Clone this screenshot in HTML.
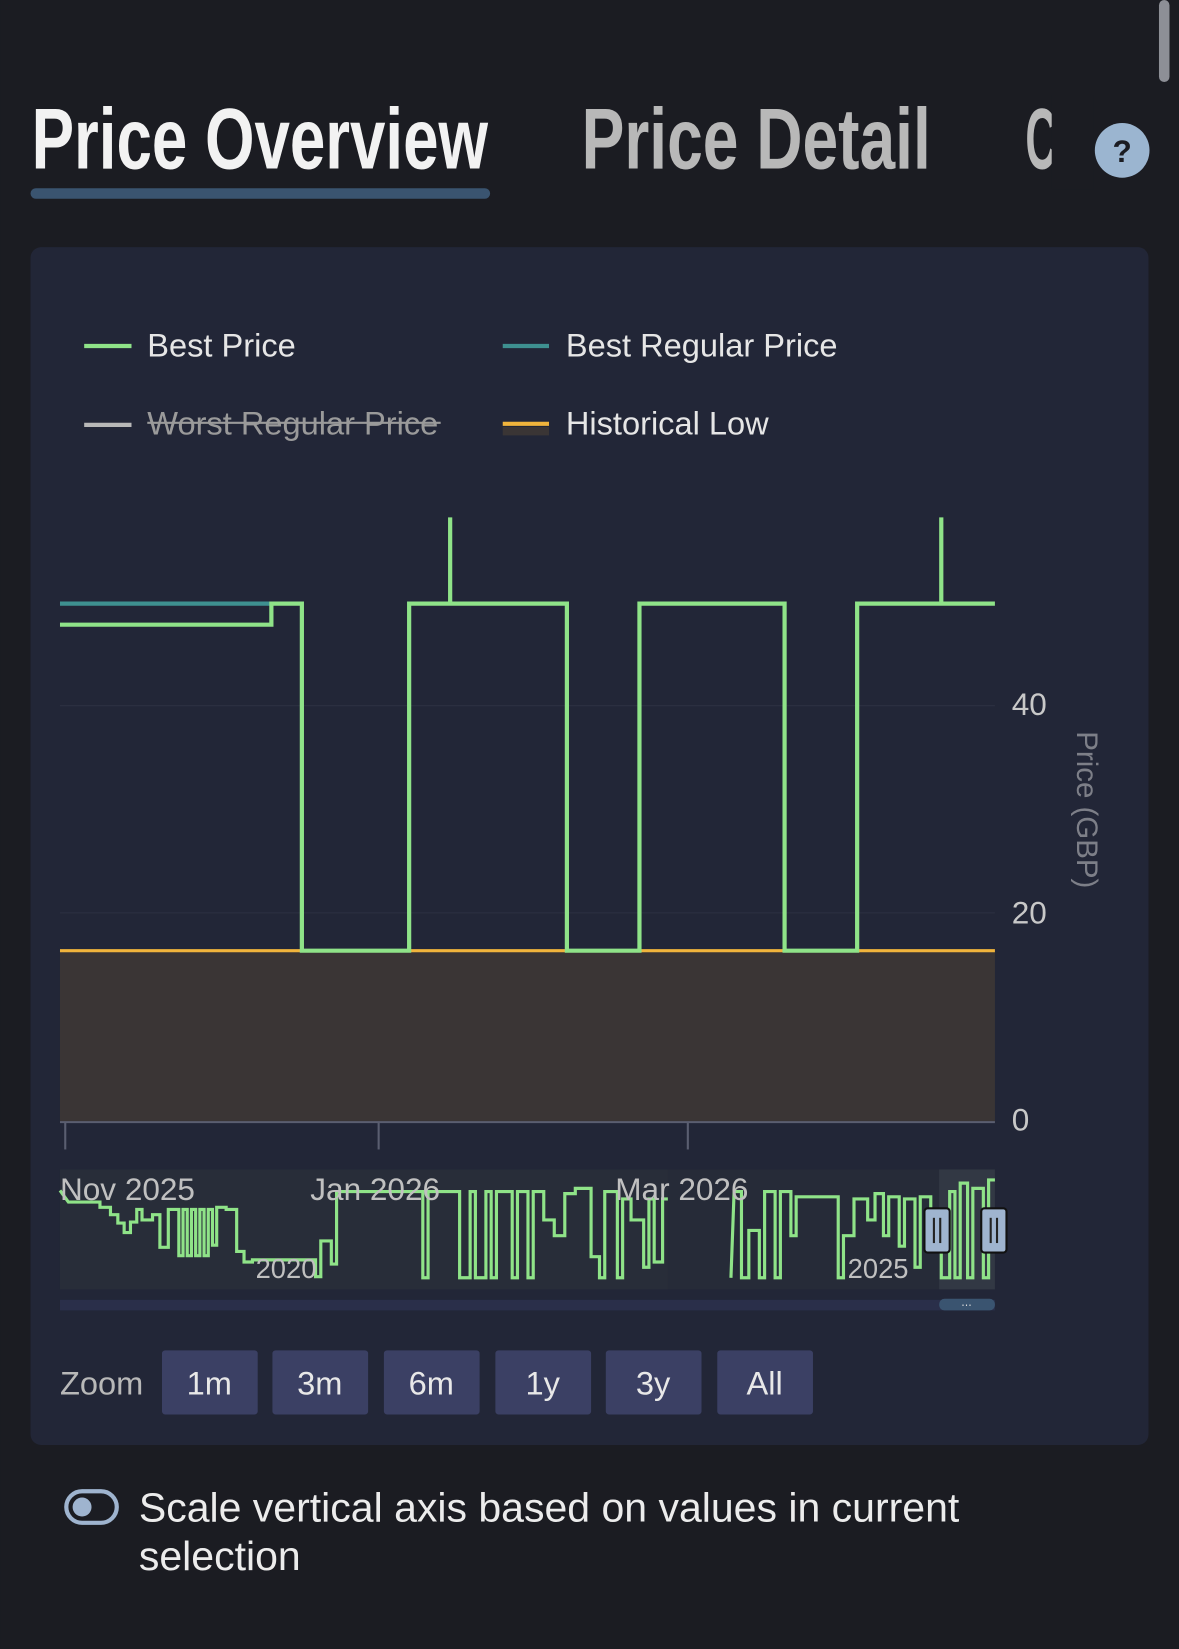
<!DOCTYPE html>
<html><head><meta charset="utf-8"><style>
html,body{margin:0;padding:0;background:#1b1c22;}
svg{display:block}
text{font-family:"Liberation Sans",sans-serif;}
</style></head><body>
<svg width="1179" height="1649" viewBox="0 0 1121 1568" xmlns="http://www.w3.org/2000/svg">
<rect width="1121" height="1568" fill="#1b1c22"/>
<rect x="1102" y="0" width="10" height="78" rx="5" fill="#8d8f96"/>
<text x="30" y="160" font-size="82" font-weight="bold" fill="#f2f2f2" style="font-family:'Liberation Sans Narrow','Liberation Sans',sans-serif" textLength="434" lengthAdjust="spacingAndGlyphs">Price Overview</text>
<text x="553" y="160" font-size="82" font-weight="bold" fill="#b8b8b8" style="font-family:'Liberation Sans Narrow','Liberation Sans',sans-serif" textLength="332" lengthAdjust="spacingAndGlyphs">Price Detail</text>
<text x="975" y="160" font-size="82" font-weight="bold" fill="#b8b8b8" style="font-family:'Liberation Sans Narrow','Liberation Sans',sans-serif" textLength="30" lengthAdjust="spacingAndGlyphs">C</text>
<rect x="1000" y="90" width="40" height="90" fill="#1b1c22"/>
<rect x="29" y="179" width="437" height="10" rx="5" fill="#3a5470"/>
<circle cx="1067" cy="143" r="26" fill="#9bb5d0"/>
<text x="1067" y="154" font-size="30" font-weight="bold" fill="#1b1c22" text-anchor="middle">?</text>
<rect x="29" y="235" width="1063" height="1139" rx="10" fill="#222637"/>
<g font-size="31">
<line x1="80" y1="329" x2="125" y2="329" stroke="#8fe388" stroke-width="4"/>
<text x="140" y="339" fill="#e6e6e6">Best Price</text>
<line x1="478" y1="329" x2="522" y2="329" stroke="#3e9090" stroke-width="4"/>
<text x="538" y="339" fill="#e6e6e6">Best Regular Price</text>
<line x1="80" y1="404" x2="125" y2="404" stroke="#b8b8b8" stroke-width="4"/>
<text x="140" y="413" fill="#9a9a9a">Worst Regular Price</text>
<line x1="140" y1="402" x2="419" y2="402" stroke="#9a9a9a" stroke-width="2"/>
<line x1="478" y1="403" x2="522" y2="403" stroke="#f0b43c" stroke-width="4"/>
<rect x="478" y="406" width="44" height="8" fill="#3a3535"/>
<text x="538" y="413" fill="#e6e6e6">Historical Low</text>
</g>
<line x1="57" y1="671" x2="946" y2="671" stroke="#2d3142" stroke-width="1"/>
<line x1="57" y1="868" x2="946" y2="868" stroke="#2d3142" stroke-width="1"/>
<rect x="57" y="904" width="889" height="163" fill="#3a3535"/>
<line x1="57" y1="904" x2="946" y2="904" stroke="#f0b43c" stroke-width="3"/>
<line x1="57" y1="1067" x2="946" y2="1067" stroke="#5a5e70" stroke-width="2"/>
<g stroke="#5a5e70" stroke-width="2"><line x1="62" y1="1067" x2="62" y2="1093"/><line x1="360" y1="1067" x2="360" y2="1093"/><line x1="654" y1="1067" x2="654" y2="1093"/></g>
<polyline fill="none" stroke="#3e9090" stroke-width="4" points="57,574 258,574"/>
<polyline fill="none" stroke="#8fe388" stroke-width="4" points="57,594 258,594 258,574 287,574 287,904 389,904 389,574 428,574 428,492 428,574 539,574 539,904 608,904 608,574 746,574 746,904 815,904 815,574 895,574 895,492 895,574 946,574"/>
<g font-size="30" fill="#c8c8c8">
<text x="962" y="680">40</text><text x="962" y="878">20</text><text x="962" y="1075">0</text>
<text transform="translate(1024,770) rotate(90)" text-anchor="middle" fill="#7d7f88" font-size="28">Price (GBP)</text>
</g>
<rect x="57" y="1112" width="889" height="114" fill="#262b38"/>
<rect x="57" y="1112" width="578" height="114" fill="#2a2f3a" opacity="0.6"/>
<rect x="893" y="1112" width="53" height="114" fill="#323844"/>
<polyline fill="none" stroke="#8fe388" stroke-width="3" points="57,1132 65,1143 95,1143 95,1148 105,1148 105,1155 112,1155 112,1163 118,1163 118,1172 124,1172 124,1162 130,1162 130,1150 135,1150 135,1160 145,1160 145,1155 152,1155 152,1186 160,1186 160,1150 170,1150 170,1194 174,1194 174,1150 178,1150 178,1194 182,1194 182,1150 186,1150 186,1194 190,1194 190,1150 194,1150 194,1194 198,1194 198,1150 202,1150 202,1184 206,1184 206,1148 215,1148 215,1150 225,1150 225,1190 232,1190 232,1200 240,1200 240,1198 300,1198 300,1214 305,1214 305,1180 315,1180 315,1202 320,1202 320,1133 402,1133 402,1215 407,1215 407,1133 437,1133 437,1215 447,1215 447,1133 452,1133 452,1215 462,1215 462,1133 467,1133 467,1215 472,1215 472,1133 487,1133 487,1215 492,1215 492,1133 502,1133 502,1215 507,1215 507,1133 517,1133 517,1160 527,1160 527,1175 537,1175 537,1135 547,1135 547,1130 562,1130 562,1195 570,1195 570,1215 575,1215 575,1133 587,1133 587,1215 592,1215 592,1140 600,1140 600,1160 612,1160 612,1205 617,1205 617,1140 622,1140 622,1200 630,1200 630,1140 635,1140"/>
<polyline fill="none" stroke="#8fe388" stroke-width="3" points="695,1215 698,1133 705,1133 705,1215 712,1215 712,1170 722,1170 722,1215 727,1215 727,1133 737,1133 737,1215 742,1215 742,1133 752,1133 752,1175 757,1175 757,1138 797,1138 797,1215 802,1215 802,1175 812,1175 812,1140 825,1140 825,1160 832,1160 832,1135 840,1135 840,1175 845,1175 845,1138 855,1138 855,1185 860,1185 860,1140 870,1140 870,1205 875,1205 875,1138 885,1138 885,1150 895,1150 895,1215 903,1215 903,1133 908,1133 908,1215 913,1215 913,1125 920,1125 920,1215 925,1215 925,1130 935,1130 935,1215 940,1215 940,1122 946,1122"/>
<g font-size="30" fill="#c0c0c0">
<text x="57" y="1141">Nov 2025</text><text x="295" y="1141">Jan 2026</text><text x="585" y="1141">Mar 2026</text>
<text x="243" y="1215" font-size="26">2020</text><text x="806" y="1215" font-size="26">2025</text>
</g>
<rect x="879" y="1149" width="24" height="42" rx="3" fill="#9fb4cf" stroke="#111" stroke-width="2"/>
<rect x="933" y="1149" width="24" height="42" rx="3" fill="#9fb4cf" stroke="#111" stroke-width="2"/>
<g stroke="#222" stroke-width="2"><line x1="888" y1="1158" x2="888" y2="1182"/><line x1="894" y1="1158" x2="894" y2="1182"/><line x1="942" y1="1158" x2="942" y2="1182"/><line x1="948" y1="1158" x2="948" y2="1182"/></g>
<rect x="57" y="1236" width="889" height="10" fill="#2a2f4a"/>
<rect x="893" y="1235" width="53" height="11" rx="5" fill="#3a5470"/>
<text x="919" y="1244" font-size="10" fill="#ddd" text-anchor="middle">⋯</text>
<g font-size="31">
<text x="57" y="1326" fill="#b8b8b8">Zoom</text>
<g fill="#3b4064"><rect x="154" y="1284" width="91" height="61" rx="3"/><rect x="259" y="1284" width="91" height="61" rx="3"/><rect x="365" y="1284" width="91" height="61" rx="3"/><rect x="471" y="1284" width="91" height="61" rx="3"/><rect x="576" y="1284" width="91" height="61" rx="3"/><rect x="682" y="1284" width="91" height="61" rx="3"/></g>
<g fill="#e8e8e8" text-anchor="middle"><text x="199" y="1326">1m</text><text x="304" y="1326">3m</text><text x="410" y="1326">6m</text><text x="516" y="1326">1y</text><text x="621" y="1326">3y</text><text x="727" y="1326">All</text></g>
</g>
<rect x="63" y="1418" width="48" height="30" rx="15" fill="#1b1c22" stroke="#9fb4cf" stroke-width="4"/>
<circle cx="78" cy="1433" r="9" fill="#9fb4cf"/>
<g font-size="39" fill="#ececec"><text x="132" y="1447">Scale vertical axis based on values in current</text><text x="132" y="1493">selection</text></g>
</svg>
</body></html>
